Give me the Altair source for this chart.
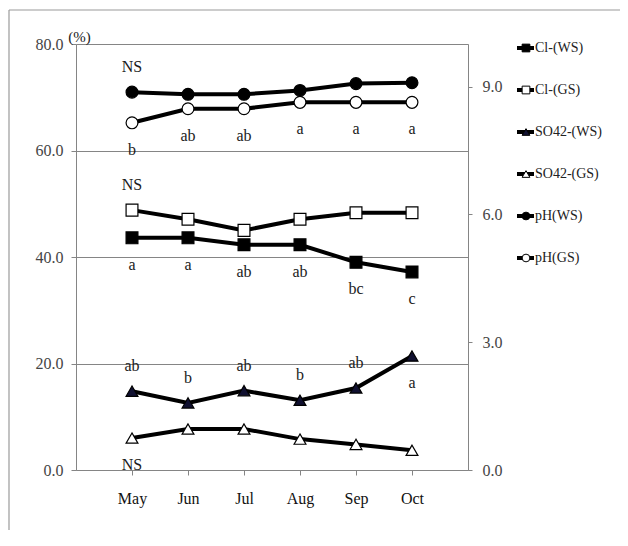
import altair as alt
import pandas as pd

months = ["May", "Jun", "Jul", "Aug", "Sep", "Oct"]
series_names = ["Cl-(WS)", "Cl-(GS)", "SO42-(WS)", "SO42-(GS)", "pH(WS)", "pH(GS)"]

cl_ws = [43.6, 43.6, 42.3, 42.3, 39.0, 37.2]
cl_gs = [48.8, 47.1, 45.0, 47.1, 48.3, 48.3]
so4_ws = [14.8, 12.6, 14.9, 13.1, 15.4, 21.4]
so4_gs = [6.0, 7.7, 7.7, 5.8, 4.8, 3.7]
ph_ws = [8.87, 8.82, 8.82, 8.91, 9.07, 9.09]
ph_gs = [8.15, 8.48, 8.48, 8.63, 8.63, 8.63]

# significance letters
ph_gs_letters = ["b", "ab", "ab", "a", "a", "a"]
cl_ws_letters = ["a", "a", "ab", "ab", "bc", "c"]
so4_ws_letters = ["ab", "b", "ab", "b", "ab", "a"]
so4_ws_sides = ["above", "above", "above", "above", "above", "below"]

shape_range = ["square", "square", "triangle-up", "triangle-up", "circle", "circle"]
fill_range = ["#000000", "#ffffff", "#101030", "#ffffff", "#000000", "#ffffff"]

values = {
    "Cl-(WS)": cl_ws, "Cl-(GS)": cl_gs, "SO42-(WS)": so4_ws,
    "SO42-(GS)": so4_gs, "pH(WS)": ph_ws, "pH(GS)": ph_gs,
}
rows = []
for s in series_names:
    for m, v in zip(months, values[s]):
        rows.append({"month": m, "series": s, "value": v})
df = pd.DataFrame(rows)
df_left = df[~df.series.str.startswith("pH")]
df_right = df[df.series.str.startswith("pH")]

ann = []
for i, m in enumerate(months):
    ann.append({"month": m, "series": "pH(GS)", "label": ph_gs_letters[i], "side": "below", "value": ph_gs[i]})
    ann.append({"month": m, "series": "Cl-(WS)", "label": cl_ws_letters[i], "side": "below", "value": cl_ws[i]})
    ann.append({"month": m, "series": "SO42-(WS)", "label": so4_ws_letters[i], "side": so4_ws_sides[i], "value": so4_ws[i]})
ann.append({"month": "May", "series": "pH(WS)", "label": "NS", "side": "above", "value": ph_ws[0]})
ann.append({"month": "May", "series": "Cl-(GS)", "label": "NS", "side": "above", "value": cl_gs[0]})
ann.append({"month": "May", "series": "SO42-(GS)", "label": "NS", "side": "below", "value": so4_gs[0]})
ann = pd.DataFrame(ann)
ann_left = ann[~ann.series.str.startswith("pH")]
ann_right = ann[ann.series.str.startswith("pH")]

FONT = "Liberation Serif"
GRAY = "#858585"

x_enc = alt.X("month:N", sort=months, title=None,
              scale=alt.Scale(type="point", padding=1),
              axis=alt.Axis(labelAngle=0, tickSize=5, labelPadding=15, grid=False,
                            domainColor=GRAY, tickColor=GRAY, labelColor="#111111",
                            labelFont=FONT, labelFontSize=16))

left_axis = alt.Axis(orient="left", values=[0, 20, 40, 60, 80], format=".1f", grid=True,
                     gridColor=GRAY, domainColor=GRAY, tickColor=GRAY, tickSize=5,
                     labelPadding=8, labelFont=FONT, labelFontSize=16, labelColor="#444444",
                     title="(%)", titleAngle=0, titleX=3, titleY=-8, titleAlign="center",
                     titleBaseline="middle", titleFont=FONT, titleFontSize=15,
                     titleFontWeight="normal", titleColor="#222222")
right_axis = alt.Axis(orient="right", values=[0, 3, 6, 9], format=".1f", grid=False,
                      domainColor=GRAY, tickColor=GRAY, tickSize=4, labelPadding=10,
                      labelFont=FONT, labelFontSize=16, labelColor="#444444", title=None)

shape_enc = alt.Shape("series:N", scale=alt.Scale(domain=series_names, range=shape_range), legend=None)
fill_enc = alt.Fill("series:N", scale=alt.Scale(domain=series_names, range=fill_range), legend=None)


def group(data, annd, y_scale, axis):
    y = alt.Y("value:Q", scale=y_scale, axis=axis, title=None)
    line = alt.Chart(data).mark_line(color="black", strokeWidth=4).encode(
        x=x_enc, y=y, detail="series:N")
    pts = alt.Chart(data).mark_point(filled=True, size=140, stroke="black",
                                     strokeWidth=1.2, opacity=1).encode(
        x=x_enc, y=y, shape=shape_enc, fill=fill_enc)
    above = alt.Chart(annd).transform_filter(alt.datum.side == "above").mark_text(
        font=FONT, fontSize=16, color="#1a1a1a", dy=-25, baseline="middle").encode(
        x=x_enc, y=y, text="label:N")
    below = alt.Chart(annd).transform_filter(alt.datum.side == "below").mark_text(
        font=FONT, fontSize=16, color="#1a1a1a", dy=27, baseline="middle").encode(
        x=x_enc, y=y, text="label:N")
    return alt.layer(line, pts, above, below)


left_group = group(df_left, ann_left, alt.Scale(domain=[0, 80], nice=False), left_axis)
right_group = group(df_right, ann_right, alt.Scale(domain=[0, 10], nice=False), right_axis)

leg_df = pd.DataFrame({"series": series_names, "label": series_names})
leg_y = alt.Y("series:N", sort=series_names, axis=None,
              scale=alt.Scale(type="point", padding=0, range=[4, 214]))
leg_rule = alt.Chart(leg_df).mark_rule(color="black", strokeWidth=4).encode(
    x=alt.value(441), x2=alt.value(458), y=leg_y)
leg_pts = alt.Chart(leg_df).mark_point(filled=True, size=60, stroke="black",
                                       strokeWidth=1, opacity=1).encode(
    x=alt.value(450), y=leg_y, shape=shape_enc, fill=fill_enc)
leg_txt = alt.Chart(leg_df).mark_text(align="left", baseline="middle", font=FONT,
                                      fontSize=14, color="#222222").encode(
    x=alt.value(459), y=leg_y, text="label:N")
legend_group = alt.layer(leg_rule, leg_pts, leg_txt)

frame_df = pd.DataFrame({"edge": ["top", "left"]})
frame_top = alt.Chart(frame_df).transform_filter(alt.datum.edge == "top").mark_rule(
    color="#9a9a9a", strokeWidth=1.2).encode(
    x=alt.value(-67), x2=alt.value(544), y=alt.value(-34))
frame_left = alt.Chart(frame_df).transform_filter(alt.datum.edge == "left").mark_rule(
    color="#9a9a9a", strokeWidth=1.2).encode(
    x=alt.value(-67), y=alt.value(-34), y2=alt.value(486))

chart = alt.layer(left_group, right_group, legend_group, frame_top, frame_left).resolve_scale(
    y="independent"
).properties(
    width=392, height=426,
    autosize=alt.AutoSizeParams(type="none"),
    padding={"left": 68, "top": 36, "right": 152, "bottom": 68},
).configure_view(strokeWidth=0).configure(background="white")

chart.save("out.html", embed_options={"renderer": "svg", "actions": False})
